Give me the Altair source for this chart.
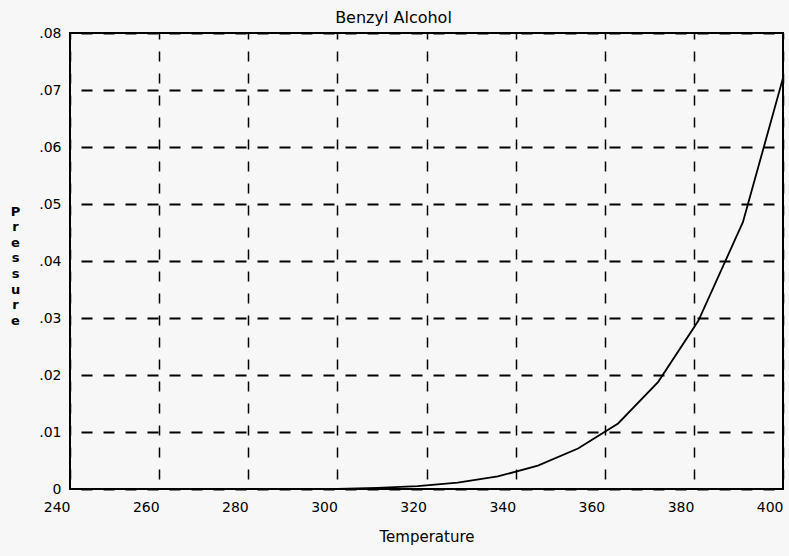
import altair as alt
import pandas as pd

temperature = [240, 260, 280, 290, 300, 309, 318, 327, 336, 345, 354, 363, 372, 381, 391, 400]
pressure = [0.0, 0.0, 0.0, 0.0, 0.00003, 0.0002, 0.0005, 0.0011, 0.0022, 0.0041, 0.0071,
            0.0115, 0.0188, 0.0295, 0.0468, 0.0721]
x_ticks = [240, 260, 280, 300, 320, 340, 360, 380, 400]
y_ticks = [0, 0.01, 0.02, 0.03, 0.04, 0.05, 0.06, 0.07, 0.08]

df = pd.DataFrame({"Temperature": temperature, "Pressure": pressure})

FONT = "DejaVu Sans"

chart = alt.Chart(df).mark_line(color="black", strokeWidth=1.8).encode(
    x=alt.X(
        "Temperature:Q",
        scale=alt.Scale(domain=[240, 400], nice=False, zero=False),
        axis=alt.Axis(
            values=x_ticks,
            title="Temperature",
            titleFont=FONT, titleFontSize=15, titleFontWeight="normal", titleColor="black",
            titlePadding=15,
            labelFont=FONT, labelFontSize=14, labelColor="black",
            labelAlign="right", labelPadding=11,
            ticks=False, domain=False,
            grid=True, gridColor="black", gridWidth=1.5, gridDash=[10, 12], gridDashOffset=4,
            gridOpacity=1,
        ),
    ),
    y=alt.Y(
        "Pressure:Q",
        scale=alt.Scale(domain=[0, 0.08], nice=False),
        axis=alt.Axis(
            values=y_ticks,
            labelExpr="datum.value == 0 ? '0' : replace(format(datum.value, '.2f'), '0.', '.')",
            title=["P", "r", "e", "s", "s", "u", "r", "e"],
            titleAngle=0, titleAlign="center", titleBaseline="top",
            titleX=-55, titleY=172, titleLineHeight=15.6,
            titleFont=FONT, titleFontSize=13, titleFontWeight="bold", titleColor="black",
            labelFont=FONT, labelFontSize=14, labelColor="black", labelPadding=9,
            ticks=False, domain=False,
            grid=True, gridColor="black", gridWidth=2, gridDash=[11, 11], gridDashOffset=11,
            gridOpacity=1,
        ),
    ),
).properties(
    width=713,
    height=456,
    title=alt.TitleParams(
        "Benzyl Alcohol", font=FONT, fontSize=16, fontWeight="normal", color="black",
        anchor="middle", dx=-33, offset=0,
    ),
    autosize=alt.AutoSizeParams(type="none"),
    padding={"left": 70, "top": 33, "right": 6, "bottom": 67},
    background="#f7f7f7",
).configure_view(stroke="black", strokeWidth=2)

chart.save("out.html", embed_options={"renderer": "svg", "actions": False})
